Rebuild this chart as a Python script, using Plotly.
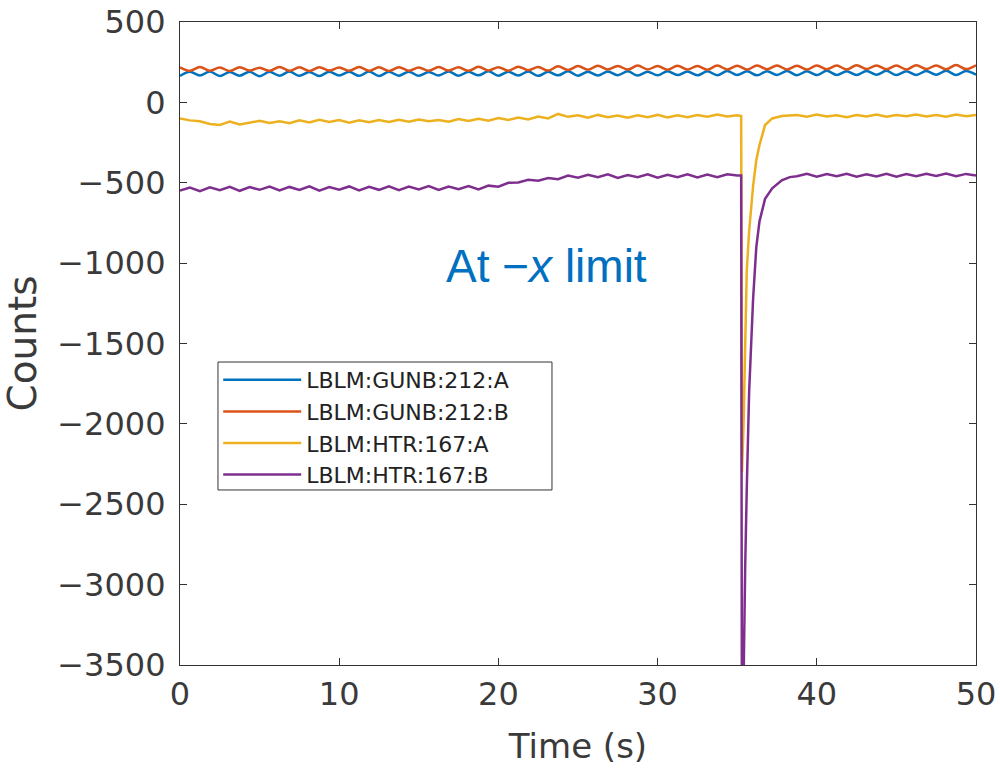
import plotly.graph_objects as go

# ---------------- data ----------------
# shared time base (s), half-period sampling of the ripple
T_BASE = [0.0, 0.625, 1.25, 1.875, 2.5, 3.125, 3.75, 4.375, 5.0, 5.625,
          6.25, 6.875, 7.5, 8.125, 8.75, 9.375, 10.0, 10.625, 11.25, 11.875,
          12.5, 13.125, 13.75, 14.375, 15.0, 15.625, 16.25, 16.875, 17.5, 18.125,
          18.75, 19.375, 20.0, 20.625, 21.25, 21.875, 22.5, 23.125, 23.75, 24.375,
          25.0, 25.625, 26.25, 26.875, 27.5, 28.125, 28.75, 29.375, 30.0, 30.625,
          31.25, 31.875, 32.5, 33.125, 33.75, 34.375, 35.0, 35.625, 36.25, 36.875,
          37.5, 38.125, 38.75, 39.375, 40.0, 40.625, 41.25, 41.875, 42.5, 43.125,
          43.75, 44.375, 45.0, 45.625, 46.25, 46.875, 47.5, 48.125, 48.75, 49.375,
          50.0]

GUNB_A = [165, 190, 167, 192, 164, 189, 166, 191, 163, 190,
          166, 192, 165, 189, 164, 191, 167, 190, 165, 192,
          164, 190, 166, 191, 165, 189, 167, 192, 166, 190,
          168, 193, 166, 191, 167, 192, 165, 190, 168, 193,
          166, 191, 167, 192, 169, 193, 167, 191, 168, 194,
          170, 192, 168, 193, 169, 195, 170, 193, 168, 194,
          171, 195, 169, 193, 170, 196, 171, 194, 170, 195,
          172, 196, 170, 194, 171, 195, 172, 197, 170, 195,
          172]

GUNB_B = [218, 196, 220, 197, 217, 195, 219, 198, 216, 196,
          220, 197, 218, 195, 219, 198, 217, 196, 220, 197,
          218, 195, 219, 197, 217, 196, 220, 198, 218, 196,
          221, 199, 219, 197, 222, 200, 220, 198, 224, 201,
          226, 203, 228, 205, 227, 204, 229, 205, 226, 203,
          228, 204, 227, 203, 229, 205, 228, 204, 230, 206,
          229, 205, 228, 204, 230, 206, 229, 205, 231, 207,
          230, 206, 229, 205, 231, 207, 230, 206, 232, 207,
          231]

# HTR channels: base samples before the event (t <= 35.0), event samples, base samples after (t >= 38.75)
T_EVENT = [35.25, 35.3, 35.4, 35.5, 35.6, 35.75, 35.9, 36.0, 36.2, 36.4,
           36.75, 37.2, 37.8, 38.3]

HTR_A_PRE = [-100, -112, -118, -135, -140, -120, -138, -125, -115, -128,
             -118, -130, -112, -125, -108, -122, -110, -126, -112, -124,
             -110, -122, -108, -120, -106, -118, -110, -121, -104, -116,
             -102, -114, -98, -110, -94, -106, -88, -100, -72, -90,
             -80, -95, -78, -92, -82, -96, -80, -92, -78, -94,
             -80, -92, -78, -90, -76, -88, -80]
HTR_A_EVENT = [-85, -2300, -2000, -1450, -1050, -800, -598, -520, -360, -265,
               -141, -100, -85, -82]
HTR_A_POST = [-78, -90, -76, -88, -80, -92, -78, -88, -76, -90,
              -78, -86, -75, -88, -78, -90, -76, -86, -78]

HTR_B_PRE = [-548, -530, -552, -528, -546, -525, -550, -527, -544, -524,
             -548, -526, -545, -522, -549, -527, -543, -523, -547, -525,
             -544, -522, -546, -524, -541, -521, -545, -523, -540, -520,
             -542, -518, -525, -500, -498, -482, -488, -470, -478, -455,
             -468, -450, -466, -448, -470, -452, -465, -447, -468, -450,
             -466, -448, -467, -449, -465, -447, -455]
HTR_B_EVENT = [-455, -4300, -3500, -2900, -2405, -1800, -1450, -1221, -900, -740,
               -600, -535, -485, -465]
HTR_B_POST = [-460, -445, -462, -446, -460, -444, -463, -447, -461, -445,
              -462, -446, -460, -444, -458, -443, -460, -445, -455]

NAMES = ["LBLM:GUNB:212:A", "LBLM:GUNB:212:B", "LBLM:HTR:167:A", "LBLM:HTR:167:B"]
COLORS = ["#0072BD", "#D95319", "#EDB120", "#7E2F8E"]

X_TICKS = [0, 10, 20, 30, 40, 50]
Y_TICKS = [500, 0, -500, -1000, -1500, -2000, -2500, -3000, -3500]

# ---------------- build ----------------
t_pre = [t for t in T_BASE if t <= 35.0]
t_post = [t for t in T_BASE if t >= 38.75]
t_htr = t_pre + T_EVENT + t_post

series = [
    (T_BASE, GUNB_A, "spline"),
    (T_BASE, GUNB_B, "spline"),
    (t_htr, HTR_A_PRE + HTR_A_EVENT + HTR_A_POST, "linear"),
    (t_htr, HTR_B_PRE + HTR_B_EVENT + HTR_B_POST, "linear"),
]

fig = go.Figure()
for (tx, yv, shp), name, col in zip(series, NAMES, COLORS):
    fig.add_trace(go.Scatter(x=tx, y=yv, mode="lines", name=name,
                             line=dict(color=col, width=2.5, shape=shp, smoothing=1.0)))

TXT = "#3a3a3a"
axis_font = dict(family="DejaVu Sans", size=32, color=TXT)
fig.update_layout(
    width=1000, height=769,
    margin=dict(l=180, r=24, t=22, b=104),
    paper_bgcolor="white", plot_bgcolor="white",
    font=dict(family="DejaVu Sans", color=TXT),
    showlegend=True,
    legend=dict(x=0.048, y=0.4759, xanchor="left", yanchor="top",
                bgcolor="rgba(0,0,0,0)", borderwidth=0,
                font=dict(family="DejaVu Sans", size=22, color="#222222"),
                itemwidth=78, tracegroupgap=0),
    # legend frame (white box with dark border)
    shapes=[dict(type="rect", xref="paper", yref="paper",
                 x0=0.0477, x1=0.4673, y0=0.2722, y1=0.4712,
                 line=dict(color="#333333", width=1), fillcolor="white", layer="above")],
    annotations=[dict(x=23.0, y=-1020, xref="x", yref="y",
                      text="At \u2212<i>x</i> limit", showarrow=False,
                      font=dict(family="Liberation Sans", size=46, color="#0070C0"))],
)
fig.update_xaxes(range=[0, 50], tickvals=X_TICKS, ticks="inside", ticklen=7,
                 showline=True, linecolor="#333333", linewidth=1.2, mirror="ticks",
                 tickcolor="#333333", showgrid=False, zeroline=False, automargin=False,
                 tickfont=axis_font, ticklabeloverflow="allow",
                 title=dict(text="Time (s)", font=dict(family="DejaVu Sans", size=34, color=TXT),
                            standoff=22))
fig.update_yaxes(range=[-3500, 500], tickvals=Y_TICKS, ticks="inside", ticklen=7,
                 showline=True, linecolor="#333333", linewidth=1.2, mirror="ticks",
                 tickcolor="#333333", showgrid=False, zeroline=False, automargin=False,
                 tickfont=axis_font, ticklabelstandoff=7, ticklabeloverflow="allow",
                 title=dict(text="Counts", font=dict(family="DejaVu Sans", size=39, color=TXT),
                            standoff=30))

fig.write_html("out.html", config={"displayModeBar": False},
               post_script="document.body.style.margin='0px';document.body.style.overflow='hidden';")
